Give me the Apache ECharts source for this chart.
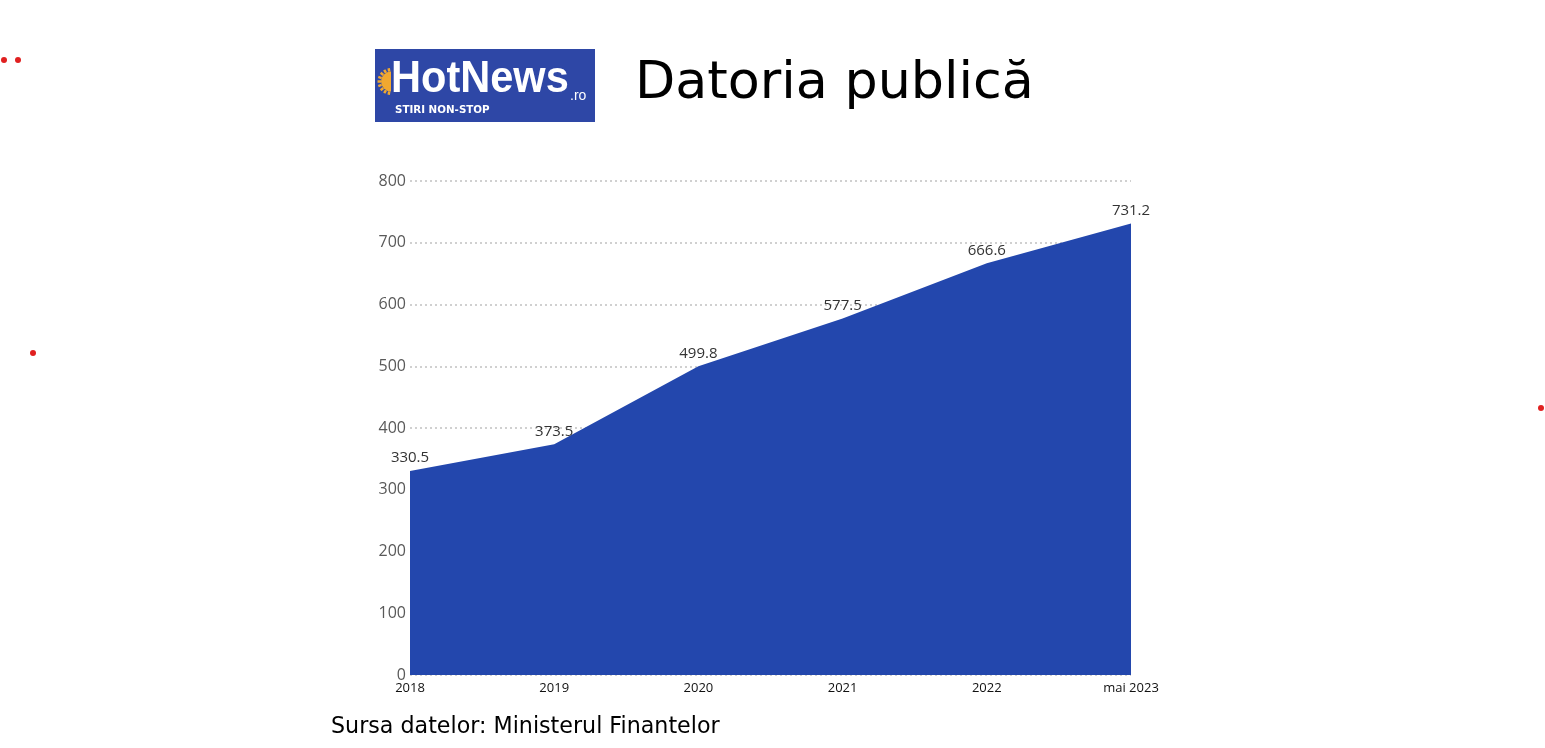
<!DOCTYPE html>
<html><head><meta charset="utf-8">
<script src="https://cdn.jsdelivr.net/npm/echarts@6/dist/echarts.min.js"></script>
<style>html,body{margin:0;padding:0;background:#fff}#c{width:1545px;height:748px}</style>
</head><body><div id="c"></div>
<script>
const categories = ['2018','2019','2020','2021','2022','mai 2023'];
const values = [330.5, 373.5, 499.8, 577.5, 666.6, 731.2];
const yTicks = [0,100,200,300,400,500,600,700,800];
const titleText = 'Datoria publică';
const sourceText = 'Sursa datelor: Ministerul Finantelor';

const rays = [];
for (let i = 0; i < 9; i++) {
  const a = Math.PI/2 + Math.PI*(i+0.5)/9;
  rays.push({type:'line', shape:{x1:391+10*Math.cos(a), y1:81.5+10*Math.sin(a), x2:391+13.5*Math.cos(a), y2:81.5+13.5*Math.sin(a)},
    style:{stroke:'#f0a830', lineWidth:2.5}});
}

const chart = echarts.init(document.getElementById('c'));
chart.setOption({
  animation:false,
  backgroundColor:'#ffffff',
  grid:{left:410, right:414, top:181, bottom:73},
  xAxis:{type:'category', data:categories, boundaryGap:false,
    axisLine:{show:false}, axisTick:{show:false},
    axisLabel:{color:'#111', fontFamily:'Open Sans', fontSize:13, margin:7}},
  yAxis:{type:'value', min:0, max:800, interval:100,
    axisLine:{show:false}, axisTick:{show:false},
    axisLabel:{color:'#595959', fontFamily:'Open Sans', fontSize:16, margin:4,
      formatter:v=>yTicks.includes(v)?String(v):''},
    splitLine:{lineStyle:{color:'#d0d0d0', type:[2,3], width:2}}},
  series:[{type:'line', data:values, symbol:'circle', symbolSize:1, showSymbol:true,
    itemStyle:{color:'rgba(0,0,0,0)'},
    lineStyle:{width:0}, areaStyle:{color:'#2347ad', opacity:1},
    label:{show:true, position:'top', distance:5, color:'#333', fontFamily:'Open Sans', fontSize:15,
      formatter:p=>p.value.toFixed(1)}}],
  graphic:[
    {type:'rect', shape:{x:375,y:49,width:220,height:73}, style:{fill:'#2e47a6'}},
    ...rays,
    {type:'sector', shape:{cx:391,cy:81.5,r0:0,r:10,startAngle:Math.PI/2,endAngle:Math.PI*1.5}, style:{fill:'#f0a830'}},
    {type:'text', x:391, y:80, scaleX:0.93, style:{x:0,y:0,text:'HotNews',fill:'#fff',font:'bold 44.7px "Liberation Sans", sans-serif',textVerticalAlign:'middle'}},
    {type:'text', style:{x:570,y:96,text:'.ro',fill:'#fff',font:'14px "Liberation Sans", sans-serif',textVerticalAlign:'middle'}},
    {type:'text', style:{x:395,y:110,text:'STIRI NON-STOP',fill:'#fff',font:'bold 10.3px "DejaVu Sans", sans-serif',textVerticalAlign:'middle'}},
    {type:'text', style:{x:635,y:84,text:titleText,fill:'#000',font:'52.3px "DejaVu Sans", sans-serif',textVerticalAlign:'middle'}},
    {type:'text', style:{x:331,y:727,text:sourceText,fill:'#000',font:'22.2px "DejaVu Sans", sans-serif',textVerticalAlign:'middle'}},
    {type:'circle', shape:{cx:4,cy:60,r:3}, style:{fill:'#e02020'}},
    {type:'circle', shape:{cx:18,cy:60,r:3}, style:{fill:'#e02020'}},
    {type:'circle', shape:{cx:33,cy:353,r:3}, style:{fill:'#e02020'}},
    {type:'circle', shape:{cx:1541,cy:408,r:3}, style:{fill:'#e02020'}}
  ]
});
</script></body></html>
